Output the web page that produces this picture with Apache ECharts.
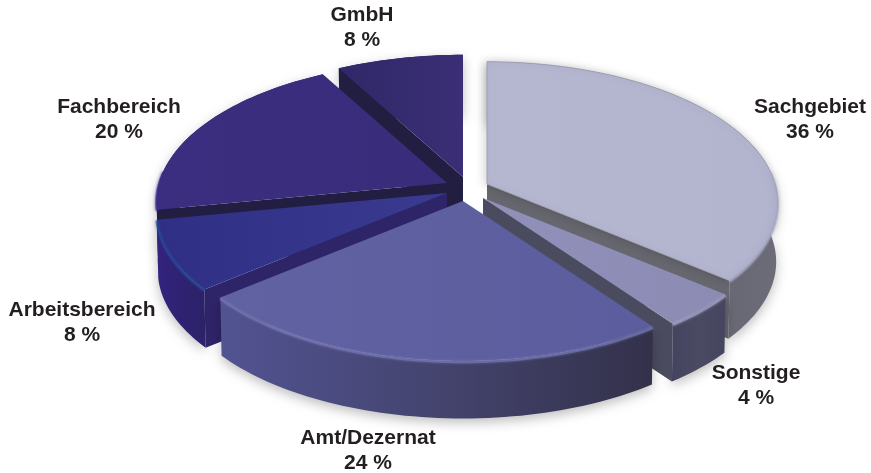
<!DOCTYPE html>
<html><head><meta charset="utf-8">
<style>html,body{margin:0;padding:0;background:#fff}#c{width:871px;height:473px}</style>
<script src="https://cdn.jsdelivr.net/npm/echarts@6/dist/echarts.min.js"></script>
</head><body><div id="c"></div>
<script>
// data, clockwise from the top of the pie
const names  = ['Sachgebiet','Sonstige','Amt/Dezernat','Arbeitsbereich','Fachbereich','GmbH'];
const values = [36,4,24,8,20,8];
// painter's order, back to front
const drawOrder = [5,4,0,3,1,2];

// layout and style
const apexX  = [487,483,463,447,447,463];
const apexY  = [184,198,201,193,183,177];
const labelX = [810,756,368,82,119,362];
const labelY = [120,385.5,450.5,322.5,120,27.5];
const topFill = [
  ['#b5b6d0','#b3b4ce'],['#9190ba','#8b8bb4'],['#6162a2','#5c5d9e'],
  ['#2f2f85','#3a3a90'],['#3b2e80','#392c7a'],['#2f2868','#3b2e76']];
const wallStops = [
  ['#55555f','#62626e','#6c6c78'],['#444460','#4a4a62','#454560'],
  ['#525392','#44446f','#33314a'],['#33237e','#2f2272','#2c2268'],
  ['#2f2472','#2f2472','#2c2268'],['#2a2260','#2a2260','#2a2260']];
const cutFill = ['#66666e','#4b4b60','#3b3a6a','#2e2468','#211e42','#211e42'];
const rimFill = ['#a8a9c4','#a4a4c6','#7778b2','#2c4a98','#3a2e88','#3a2e78'];
const depth = 59;
// perspective of the tilted disc
const persp = 0.134, radiusX = 288, radiusY = 138.6;

function project(angle){
  const u = Math.sin(angle), v = -Math.cos(angle), w = 1 - persp * v;
  return [radiusX * u / w, radiusY * v / w];
}
const total = values.reduce((a,b)=>a+b,0);
const starts = [];
values.reduce((acc,v,i)=>{starts[i]=acc;return acc+v;},0);

function renderSlice(params, api){
  const i = api.value(2);
  const a0 = api.value(1) / total * Math.PI * 2;
  const a1 = (api.value(1) + api.value(0)) / total * Math.PI * 2;
  const ax = apexX[i], ay = apexY[i];
  const steps = Math.max(8, Math.round((a1 - a0) * 40));
  const arcTop = [], arcBot = [], rim = [];
  for(let s = 0; s <= steps; s++){
    const a = a0 + (a1 - a0) * s / steps;
    const p = project(a);
    arcTop.push([ax + p[0], ay + p[1]]);
    arcBot.push([ax + p[0] * 0.995, ay + p[1] * 0.99 + depth]);
    if(Math.cos(a) < 0.1) rim.push([ax + p[0], ay + p[1] + 1]);
  }
  const apexTop = [ax, ay], apexBot = [ax, ay + depth];
  const mid = project((a0 + a1) / 2);
  // a cut face shows only when the slice lies above its top edge on screen
  const cutVisible = (t) => {
    const ex = t[0] - ax, ey = t[1] - ay;
    if(Math.abs(ex) < 1) return false;
    return mid[1] < ey / ex * mid[0];
  };
  const cut = (t, b) => ({
    type:'polygon', shape:{points:[apexTop, t, b, apexBot]},
    style:{fill:cutFill[i]}
  });
  const wall = {
    type:'polygon',
    shape:{points: arcTop.concat(arcBot.slice().reverse())},
    style:{
      fill:{type:'linear',x:0,y:0,x2:1,y2:0,colorStops:[
        {offset:0,color:wallStops[i][0]},
        {offset:0.5,color:wallStops[i][1]},
        {offset:1,color:wallStops[i][2]}]},
      shadowColor:'rgba(0,0,0,0.26)', shadowBlur:12, shadowOffsetY:4
    }
  };
  const face = {
    type:'polygon',
    shape:{points:[apexTop].concat(arcTop)},
    style:{
      fill:{type:'linear',x:0,y:0,x2:1,y2:0,colorStops:[
        {offset:0,color:topFill[i][0]},{offset:1,color:topFill[i][1]}]},
      stroke: i === 0 ? '#a0a0b8' : null,
      lineWidth: i === 0 ? 1 : 0,
      shadowColor: i === 0 ? 'rgba(0,0,0,0.14)' : 'transparent',
      shadowBlur: i === 0 ? 9 : 0,
      shadowOffsetX: i === 0 ? -3 : 0
    }
  };
  const children = [wall];
  if(cutVisible(arcTop[0])) children.push(cut(arcTop[0], arcBot[0]));
  if(cutVisible(arcTop[steps])) children.push(cut(arcTop[steps], arcBot[steps]));
  children.push(face);
  if(rim.length > 1){
    children.push({
      type:'polyline', shape:{points:rim},
      style:{stroke:rimFill[i], lineWidth:2.5, fill:null, opacity:0.65,
             shadowColor:rimFill[i], shadowBlur:3}
    });
  }
  children.push({
    type:'text', z2:50,
    style:{
      x:labelX[i], y:labelY[i],
      text:names[i] + '\n' + api.value(0) + ' %',
      font:'bold 21px "Liberation Sans", Arial, sans-serif',
      lineHeight:25, fill:'#231f20', align:'center', verticalAlign:'middle'
    }
  });
  return {type:'group', children};
}

const chart = echarts.init(document.getElementById('c'), null, {renderer:'canvas'});
chart.setOption({
  animation:false,
  backgroundColor:'#ffffff',
  series:[{
    type:'custom',
    coordinateSystem:'none',
    renderItem:renderSlice,
    clip:false,
    silent:true,
    data:drawOrder.map(i => ({name:names[i], value:[values[i], starts[i], i]}))
  }]
});
</script></body></html>
